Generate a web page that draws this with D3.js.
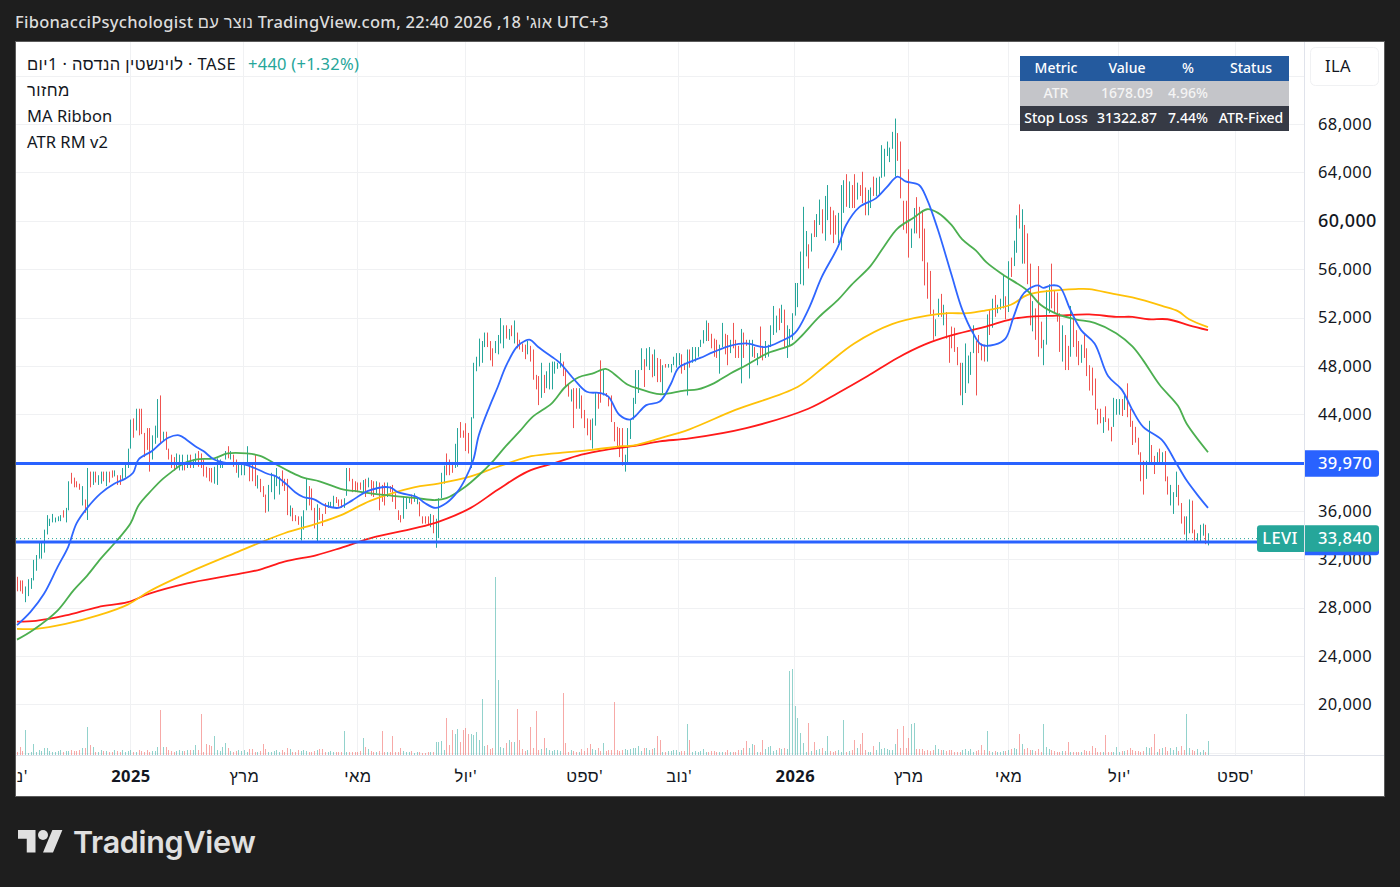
<!DOCTYPE html>
<html>
<head>
<meta charset="utf-8">
<script src="https://cdn.jsdelivr.net/npm/d3@7"></script>
<style>
body { margin: 0; background: #1e1e1e; }
text { font-family: "Noto Sans", sans-serif; letter-spacing: .4px; }
</style>
</head>
<body>
<script>
const w = 1400;
const h = 887;

// daily bars, prices in thousands of agorot
const barHigh = [
30.6,30.3,30.3,29.8,30.4,30.5,32.0,32.4,33.4,33.4,
34.5,35.7,35.4,35.8,35.5,35.6,35.7,36.1,36.3,38.5,
39.2,38.8,38.5,38.3,38.1,37.0,39.6,39.3,39.3,39.3,
39.0,39.3,39.3,39.3,39.3,39.4,39.4,39.0,39.0,39.6,
40.0,41.2,43.6,43.7,44.5,44.5,44.5,42.5,42.9,42.9,
42.3,43.1,45.3,45.6,42.6,42.6,41.2,40.7,40.5,40.8,
40.7,40.7,40.1,40.7,40.7,40.3,40.8,41.0,40.8,40.3,
39.7,39.6,39.6,39.7,40.4,40.3,40.1,41.0,41.4,41.0,
40.7,40.3,39.9,40.0,40.0,41.4,40.0,39.9,40.7,39.0,
38.7,38.1,37.4,38.2,39.2,39.0,39.6,38.9,39.4,38.7,
38.7,36.5,36.3,35.7,35.6,35.6,36.1,38.7,38.1,37.9,
36.3,36.6,36.3,35.8,36.7,36.8,36.8,37.3,37.2,
37.0,37.0,37.1,39.6,39.6,38.7,38.5,38.4,38.4,38.6,
38.7,38.8,38.6,38.5,38.5,38.4,38.2,38.4,38.4,38.1,
38.2,37.5,36.1,35.7,37.2,37.2,37.2,37.4,37.5,37.2,
36.8,35.6,35.6,35.6,35.8,35.7,35.4,37.1,39.2,39.8,
40.8,40.3,40.1,41.6,42.9,43.4,42.7,43.3,42.5,43.8,
48.3,48.8,50.3,50.1,50.8,50.8,50.1,49.5,50.1,50.6,
52.0,51.4,51.4,51.1,51.4,51.8,50.8,50.2,49.9,49.8,
50.1,49.7,49.4,47.3,47.2,48.3,47.3,47.6,48.3,48.4,
48.4,48.3,49.1,48.4,47.7,46.5,46.1,46.2,46.2,46.2,
45.6,44.4,43.7,43.6,43.7,45.8,45.8,48.5,47.7,45.8,
45.5,45.6,43.4,43.0,42.9,42.9,40.7,42.9,43.6,45.4,
47.7,47.7,49.5,48.6,49.5,49.6,49.0,49.4,48.7,48.6,
48.1,48.2,48.2,48.2,48.8,49.1,49.1,49.0,48.3,49.4,
49.4,49.6,49.6,49.6,50.2,51.0,51.8,51.6,50.7,50.3,
50.2,49.8,51.6,50.7,50.6,50.2,51.6,50.2,49.7,51.1,
50.8,50.2,50.2,50.2,49.6,49.1,51.3,49.7,50.1,49.8,
51.4,53.0,52.2,52.8,53.1,52.7,51.4,51.1,52.4,54.9,
54.9,57.5,61.2,59.2,58.1,59.0,60.1,60.6,61.8,61.0,
62.1,63.0,61.2,60.9,60.5,60.7,63.0,63.4,63.9,63.3,
63.0,63.9,63.2,63.0,64.1,62.8,62.6,62.8,63.7,63.6,
63.7,66.3,66.0,66.6,66.1,67.4,68.5,67.3,66.6,61.7,
61.7,64.3,59.4,61.1,62.0,61.2,60.9,59.4,56.6,55.9,
52.7,51.9,53.6,54.0,53.1,52.5,50.5,51.3,51.2,49.6,
48.3,48.3,49.9,48.9,49.2,51.4,50.1,50.6,49.9,49.8,
52.3,52.7,53.6,53.9,53.1,53.6,55.5,53.8,56.7,57.0,
58.4,60.5,61.4,61.0,59.7,59.0,56.5,53.4,52.8,56.3,
51.7,50.2,54.3,54.8,56.5,54.3,54.1,52.4,51.4,50.6,
49.7,53.0,52.0,51.0,50.1,49.8,50.6,49.5,48.1,47.9,
47.0,44.5,44.5,43.8,44.7,43.7,43.0,45.4,45.3,45.3,
45.3,45.6,46.6,44.5,43.5,43.0,42.1,40.9,40.2,40.2,
43.5,41.5,40.6,40.9,41.2,40.9,41.0,38.9,38.2,37.6,
39.3,38.2,36.7,35.6,35.6,37.0,36.9,34.5,34.2,34.9,
35.0,34.9,34.2];

const barLow = [
29.4,29.4,29.2,28.5,29.0,29.6,30.3,31.1,32.1,32.1,
32.6,34.1,34.8,35.1,35.1,35.2,35.2,35.5,35.1,36.1,
38.3,38.0,38.0,37.8,36.5,35.9,35.3,38.0,38.2,38.4,
38.2,38.3,38.5,38.1,38.4,38.8,38.9,38.2,38.2,38.7,
38.8,39.6,41.2,42.1,42.7,42.3,42.4,40.5,41.1,39.3,
40.3,41.6,42.1,41.6,41.8,41.1,40.3,39.6,39.4,39.6,
39.4,39.4,39.4,39.6,39.6,39.6,39.9,39.7,39.6,38.9,
38.8,38.5,38.4,38.3,38.2,39.6,39.6,40.3,40.4,40.3,
39.7,39.2,38.8,39.0,39.0,39.8,38.5,38.5,38.1,37.9,
37.6,37.2,35.9,36.0,37.6,37.0,38.1,37.4,38.1,37.7,
35.7,35.6,35.2,35.2,34.9,33.6,34.5,36.1,36.5,36.1,
34.6,33.5,35.3,34.8,35.8,36.3,36.3,36.3,36.7,
36.4,36.3,36.3,37.3,38.5,37.6,37.6,37.6,37.8,37.6,
37.2,38.0,37.3,37.2,37.5,36.1,36.8,36.5,37.2,37.6,
36.8,36.2,35.3,35.1,35.4,36.2,36.7,36.6,36.8,36.6,
35.6,35.0,35.0,34.9,34.7,34.2,33.0,33.8,37.1,38.3,
39.0,39.0,39.2,39.6,39.7,42.1,42.1,41.0,40.8,39.6,
43.7,47.6,48.0,48.3,49.6,49.6,48.5,48.0,49.1,49.0,
49.9,49.5,50.3,50.2,50.5,49.9,49.5,49.4,49.2,48.6,
49.0,48.4,46.9,46.1,44.8,45.4,45.8,46.2,46.1,46.1,
47.4,47.8,47.9,47.2,46.3,45.5,45.1,42.9,44.5,44.5,
43.7,42.9,42.3,41.9,41.2,43.1,44.5,45.0,45.6,45.5,
44.7,43.4,41.8,41.2,40.5,39.8,39.3,40.0,42.0,43.6,
44.9,45.8,47.7,46.3,48.0,47.7,47.1,47.2,46.7,46.7,
45.8,47.9,47.9,47.5,48.1,47.9,48.1,47.4,47.7,45.6,
47.9,48.3,48.4,48.8,49.6,49.9,50.1,50.1,49.5,48.8,
48.7,47.4,49.6,49.0,48.1,49.1,49.5,48.7,48.7,46.6,
48.7,49.7,47.0,48.8,48.7,48.1,48.7,48.5,48.7,48.8,
49.6,50.6,50.8,51.0,51.6,49.6,48.7,49.7,50.2,52.2,
52.9,54.8,54.7,57.1,56.1,57.5,58.7,58.7,59.7,59.0,
58.4,60.1,58.9,58.2,58.9,58.2,57.6,60.7,61.2,61.1,
61.1,61.1,61.8,62.1,61.5,60.5,60.5,61.1,62.1,62.1,
62.2,63.6,63.7,65.4,64.9,66.0,63.7,65.0,61.9,59.3,
59.0,57.0,57.8,59.0,59.0,58.6,56.7,54.7,53.6,52.3,
50.2,50.5,52.1,52.1,51.4,50.3,48.3,49.5,49.2,48.1,
45.6,44.8,45.8,46.6,47.3,49.1,45.6,49.1,48.5,48.4,
48.4,50.6,51.2,52.1,52.4,52.7,52.8,51.9,52.5,55.4,
56.3,57.4,59.4,56.5,56.5,54.8,51.4,50.9,50.2,48.8,
49.5,48.1,49.8,52.4,52.8,52.4,51.7,49.2,48.4,47.7,
47.7,48.8,49.6,48.8,48.1,48.3,48.7,47.2,46.0,45.6,
44.4,43.2,43.3,42.5,43.4,42.7,41.8,43.0,44.0,44.0,
43.9,44.4,43.8,43.0,41.5,41.7,40.7,38.5,37.4,38.7,
39.9,39.9,39.1,39.9,39.9,39.9,38.5,37.4,36.5,35.8,
37.2,36.5,35.0,34.1,33.5,34.2,34.2,33.4,33.4,33.4,
34.0,33.3,33.2];

// 1 = closed up, 0 = closed down
const barUp = [
0,0,0,1,1,1,1,1,1,1,
1,1,1,1,1,1,1,0,1,1,
0,0,0,0,1,0,1,0,1,0,
1,1,0,1,0,0,1,0,0,1,
1,1,1,0,1,0,0,0,0,0,
1,1,1,0,1,0,0,0,0,1,
1,1,0,1,0,1,1,0,0,0,
0,0,0,1,1,1,1,1,0,1,
0,0,1,1,1,1,0,0,0,1,
0,0,0,1,1,1,1,1,0,0,
0,1,0,0,0,1,1,1,0,0,
0,1,0,0,0,1,1,1,0,
0,0,1,1,0,0,0,0,0,1,
0,1,0,0,1,0,0,0,1,0,
0,0,0,0,1,1,1,0,1,1,
0,0,0,0,1,0,1,1,1,1,
0,0,0,1,1,0,0,0,0,1,
1,1,1,1,1,0,0,0,1,1,
1,1,0,1,0,1,0,0,0,0,
1,0,0,0,0,1,0,1,1,1,
1,1,1,0,0,0,1,0,0,1,
0,0,0,0,1,1,0,0,1,0,
0,0,0,0,0,0,1,1,1,1,
1,1,1,0,1,1,0,1,0,0,
1,0,1,1,1,1,1,0,0,1,
0,1,1,1,1,1,1,0,0,0,
0,1,1,0,0,1,0,0,0,1,
0,0,1,1,0,1,0,0,1,1,
1,1,1,0,1,0,1,1,1,1,
1,1,1,1,0,1,0,1,1,0,
1,1,0,0,0,1,1,1,0,1,
0,0,1,0,0,0,1,1,0,1,
1,1,1,1,1,1,1,0,0,0,
0,0,1,1,0,0,0,0,0,0,
0,1,1,0,1,0,0,0,0,0,
0,1,1,1,1,1,0,0,0,0,
1,0,1,0,1,1,1,0,1,0,
1,1,0,1,0,0,0,1,0,0,
0,1,1,1,0,0,0,0,1,0,
0,1,0,0,0,1,0,0,0,0,
0,0,0,1,0,0,0,1,1,1,
0,1,0,0,0,0,0,0,0,1,
1,0,0,1,0,1,0,0,1,1,
1,0,0,0,1,1,0,0,1,1,
1,0,1];

const volume = [
3,8,4,25,2,3,11,3,5,4,
7,7,4,3,3,4,5,3,4,4,
5,4,4,5,7,7,28,10,8,3,
3,5,4,4,3,3,5,4,3,5,
3,4,5,3,3,5,4,3,5,3,
4,4,8,45,8,8,5,4,3,4,
5,4,4,5,5,5,10,5,41,3,
11,10,9,19,5,4,8,12,7,4,
3,4,5,4,5,3,6,6,3,3,
4,11,6,3,3,4,5,3,5,3,
7,6,3,3,5,4,5,4,3,3,
4,5,6,6,3,3,4,3,3,3,
3,24,3,3,3,3,3,4,17,8,
6,4,3,3,4,24,3,3,3,19,
3,3,7,4,3,3,4,2,3,3,
2,2,3,3,3,13,13,14,5,37,
10,25,21,26,13,25,27,21,21,20,
23,15,56,9,10,6,7,178,75,8,
7,12,15,13,13,46,15,6,4,5,
28,7,44,5,6,17,7,5,4,5,
5,4,62,12,3,5,4,3,3,6,
4,7,11,6,5,7,4,12,4,5,
5,53,5,4,5,6,5,6,7,7,
9,4,7,7,5,6,7,19,15,3,
3,4,4,5,5,3,4,4,31,15,
3,4,3,4,6,3,3,4,4,3,
3,3,3,5,3,3,3,5,5,7,
14,7,11,10,3,3,15,6,8,9,
4,5,7,6,7,6,84,86,49,37,
22,12,3,32,4,13,5,6,7,4,
19,4,3,4,5,3,35,3,4,5,
15,7,11,22,5,3,3,9,5,13,
6,7,6,5,5,11,26,7,29,7,
17,31,32,6,6,6,4,5,4,5,
10,6,5,5,4,5,5,3,3,3,
5,6,4,6,3,4,5,10,5,24,
4,3,4,3,3,4,4,5,6,7,
6,21,11,6,7,5,5,4,6,3,
31,8,6,5,4,3,3,4,4,13,
3,3,3,3,3,5,4,4,9,7,
3,3,3,20,3,3,3,8,3,4,
4,5,7,5,4,4,3,4,8,7,
8,21,3,6,7,8,4,7,5,8,
4,9,5,41,7,5,4,6,3,5,
3,14];

// moving averages: bar index, value read at that bar
const blueIdx = [0,5,10,15,19,22,26,31,36,40,43,45,50,53,56,60,63,66,69,73,78,84,88,93,96,100,103,106,110,114,119,121,124,130,138,141,148,151,155,159,163,166,169,171,175,178,181,185,188,190,193,198,201,206,211,216,219,223,227,229,233,238,242,245,249,253,258,264,270,277,283,288,293,298,304,307,312,318,322,326,329,334,337,341,346,350,354,357,362,366,369,372,374,378,380,383,386,390,394,399,404,409,413,417,424,429,433,437,441];
const blueVal = [26.6,27.7,29.2,31.4,33.1,35.0,36.3,37.5,38.3,38.7,39.2,40.3,41.0,41.6,42.1,42.3,41.9,41.4,41.0,40.3,40.0,39.9,39.6,39.1,38.9,38.2,37.6,37.2,37.0,36.5,36.3,36.5,36.9,37.7,38.0,37.6,37.2,36.7,36.3,36.7,37.6,38.7,40.3,42.3,44.7,46.3,48.0,49.6,50.1,50.2,49.6,48.8,48.3,47.0,45.9,45.8,45.5,44.0,43.6,43.9,44.8,45.1,46.5,47.9,48.35,48.7,49.2,49.7,49.9,49.6,50.1,50.75,52.7,55.4,57.9,59.7,61.2,61.9,62.8,63.7,63.3,63.0,61.8,59.3,55.6,52.7,50.75,49.8,49.8,50.3,52.1,53.8,54.3,54.7,54.5,54.7,54.6,52.7,51.0,49.9,47.2,46.1,44.4,43.0,41.9,40.1,38.6,37.4,36.3];

const greenIdx = [0,6,15,21,26,31,37,42,45,50,54,58,61,66,73,78,85,90,96,101,106,112,117,121,125,131,139,148,155,159,166,171,176,181,186,191,198,203,208,213,218,221,226,231,238,247,252,258,264,270,278,287,290,297,304,309,316,321,326,332,337,341,346,350,355,359,365,374,379,385,392,399,407,413,417,423,430,433,441];
const greenVal = [25.4,26.2,27.8,29.5,30.7,32.1,33.6,35.0,36.5,37.8,38.7,39.4,39.9,40.3,40.4,40.8,40.8,40.6,39.9,39.3,38.8,38.5,38.1,37.8,37.7,37.5,37.3,37.1,36.95,37.1,38.05,39.0,40.1,41.4,42.6,43.85,44.95,46.3,47.1,47.4,47.8,47.4,46.5,46.1,45.7,46.0,46.1,46.6,47.4,48.1,49.1,49.8,50.4,52.1,53.5,54.75,56.3,57.9,59.4,60.3,61.0,60.7,59.7,58.5,57.6,56.6,55.6,54.3,53.1,52.35,51.9,51.6,50.75,49.65,48.5,46.5,44.7,43.3,40.9];

const yellowIdx = [0,7,18,30,41,49,63,80,99,111,120,131,147,156,168,178,189,199,213,224,228,238,249,266,289,299,310,324,337,345,352,358,368,374,383,392,397,406,413,424,430,434,441];
const yellowVal = [26.3,26.3,26.7,27.4,28.3,29.4,30.9,32.5,34.2,35.0,35.7,36.9,38.0,38.3,38.9,39.7,40.5,40.8,41.1,41.4,41.45,42.05,42.8,44.4,46.3,48.0,49.9,51.5,52.2,52.4,52.4,52.6,53.1,53.9,54.26,54.4,54.4,54.0,53.7,53.0,52.55,51.9,51.25];

const redIdx = [0,7,18,30,41,49,63,80,90,99,111,120,131,147,156,168,178,189,199,209,218,228,238,249,270,293,304,315,326,336,345,358,368,374,385,397,407,413,419,426,434,441];
const redVal = [26.9,26.96,27.4,28.1,28.5,29.2,30.05,30.75,31.2,31.85,32.4,33.0,33.8,34.6,35.15,36.3,37.8,39.3,40.0,40.7,41.1,41.4,41.8,42.05,42.9,44.5,45.8,47.2,48.7,49.8,50.5,51.25,51.9,52.1,52.2,52.3,52.1,52.1,51.9,51.9,51.4,51.0];

const levels = [39.97, 33.48];
const lastPrice = 33.84;
const priceTicks = [20,24,28,32,36,40,44,48,52,56,60,64,68];
const gridPrices = [16,20,24,28,32,36,40,44,48,52,56,60,64,68,72];

const timeIdx = [-1,42,84,126,166,210,245,288,330,367,408,451];
const timeLabels = ["נוב'","2025","מרץ","מאי","יול'","ספט'","נוב'","2026","מרץ","מאי","יול'","ספט'"];

const tableHead = ["Metric","Value","%","Status"];
const tableAtr = ["ATR","1678.09","4.96%",""];
const tableStop = ["Stop Loss","31322.87","7.44%","ATR-Fixed"];

const teal = "#26a69a";
const redBar = "#ef5350";
const paneL = 16, paneR = 1304, paneT = 42, paneB = 755;

const x = d3.scaleLinear().domain([0, barHigh.length - 1]).range([17, 1208]);
const y = d3.scaleLinear().domain([36, 68]).range([511.5, 124.6]);
const vol = d3.scaleLinear().domain([0, d3.max(volume)]).range([paneB, 577]);

const svg = d3.select("body").append("svg").attr("width", w).attr("height", h).style("display", "block");

svg.append("rect").attr("x", 15.5).attr("y", 41.5).attr("width", 1369).attr("height", 755)
   .attr("fill", "#fff").attr("stroke", "#5a5a5a");

svg.append("clipPath").attr("id", "pane").append("rect")
   .attr("x", paneL).attr("y", paneT).attr("width", paneR - paneL).attr("height", paneB - paneT);
svg.append("clipPath").attr("id", "timeClip").append("rect")
   .attr("x", paneL).attr("y", paneB).attr("width", paneR - paneL).attr("height", 41);

const pane = svg.append("g").attr("clip-path", "url(#pane)");

// grid
pane.selectAll(".hgrid").data(gridPrices).enter().append("line")
    .attr("x1", paneL).attr("x2", paneR)
    .attr("y1", d => y(d)).attr("y2", d => y(d))
    .attr("stroke", "#f0f1f3").attr("shape-rendering", "crispEdges");
pane.selectAll(".vgrid").data(timeIdx).enter().append("line")
    .attr("x1", d => x(d)).attr("x2", d => x(d))
    .attr("y1", paneT).attr("y2", paneB)
    .attr("stroke", "#f0f1f3").attr("shape-rendering", "crispEdges");

// volume
pane.selectAll(".vol").data(volume).enter().append("rect")
    .attr("x", (d, i) => Math.round(x(i)))
    .attr("width", 1)
    .attr("y", d => vol(d))
    .attr("height", d => paneB - vol(d))
    .attr("fill", (d, i) => barUp[i] ? teal : redBar)
    .attr("opacity", 0.5);

// price bars
pane.selectAll(".bar").data(barHigh).enter().append("rect")
    .attr("x", (d, i) => Math.round(x(i)))
    .attr("width", 1)
    .attr("y", d => y(d))
    .attr("height", (d, i) => y(barLow[i]) - y(d))
    .attr("fill", (d, i) => barUp[i] ? teal : redBar);

// moving averages
const maLine = d3.line().x(d => x(d[0])).y(d => y(d[1])).curve(d3.curveCatmullRom.alpha(0.5));
const series = [
  [redIdx, redVal, "#ff1a1a"],
  [yellowIdx, yellowVal, "#ffc107"],
  [greenIdx, greenVal, "#4caf50"],
  [blueIdx, blueVal, "#2f66ff"]
];
series.forEach(s => {
  pane.append("path")
      .attr("d", maLine(d3.zip(s[0], s[1])))
      .attr("fill", "none").attr("stroke", s[2]).attr("stroke-width", 1.8);
});

// horizontal levels
pane.selectAll(".level").data(levels).enter().append("line")
    .attr("x1", paneL).attr("x2", paneR)
    .attr("y1", d => y(d)).attr("y2", d => y(d))
    .attr("stroke", "#2962ff").attr("stroke-width", 3);
pane.append("line")
    .attr("x1", paneL).attr("x2", 1257)
    .attr("y1", y(lastPrice) + 1).attr("y2", y(lastPrice) + 1)
    .attr("stroke", teal).attr("stroke-dasharray", "1 3");

// axis panel edges
svg.append("line").attr("x1", paneR + 0.5).attr("x2", paneR + 0.5).attr("y1", paneT).attr("y2", 796)
   .attr("stroke", "#e0e3eb");
svg.append("line").attr("x1", paneL).attr("x2", 1384).attr("y1", paneB + 0.5).attr("y2", paneB + 0.5)
   .attr("stroke", "#e0e3eb");

// price axis, the 60,000 label is drawn larger in the original
const yAxis = d3.axisRight(y).tickValues(priceTicks).tickSize(0)
                .tickFormat(d => d3.format(",")(d * 1000));
const yG = svg.append("g").attr("transform", "translate(" + paneR + ",0)").call(yAxis);
yG.select(".domain").remove();
yG.selectAll("text").attr("x", 14).attr("y", -0.7).attr("text-anchor", "start")
  .style("font-family", '"Noto Sans", sans-serif').attr("fill", "#131722")
  .style("font-size", d => d === 60 ? "18px" : "16.5px")
  .style("font-weight", d => d === 60 ? 500 : 400);

// time axis
const xAxis = d3.axisBottom(x).tickValues(timeIdx).tickSize(0)
                .tickFormat((d, i) => timeLabels[i]);
const xG = svg.append("g").attr("clip-path", "url(#timeClip)")
              .append("g").attr("transform", "translate(0," + paneB + ")").call(xAxis);
xG.select(".domain").remove();
xG.selectAll("text").attr("y", 15)
  .style("font-family", '"Noto Sans", sans-serif').style("font-size", "16.5px").attr("fill", "#131722")
  .style("font-weight", (d, i) => /^20/.test(timeLabels[i]) ? 700 : 400);

// price labels
function priceTag(x0, x1, yc, height, fill, label) {
  svg.append("path")
     .attr("d", "M" + x0 + "," + (yc - height / 2) + "H" + (x1 - 3) + "q3,0 3,3V" + (yc + height / 2 - 3) + "q0,3 -3,3H" + x0 + "Z")
     .attr("fill", fill);
  svg.append("text").attr("x", 1318).attr("y", yc + 5.5)
     .attr("fill", "#fff").attr("font-size", 16.5).attr("font-weight", 500).text(label);
}
priceTag(1305, 1379, y(levels[0]), 26.5, "#2962ff", d3.format(",")(levels[0] * 1000));
priceTag(1305, 1379, y(levels[1]), 26.5, "#2962ff", "");
priceTag(1305, 1379, y(lastPrice) + 1, 26.5, teal, d3.format(",")(lastPrice * 1000));
svg.append("path")
   .attr("d", "M1304," + (y(lastPrice) - 12.3) + "H1260q-3,0 -3,3V" + (y(lastPrice) + 11.3) + "q0,3 3,3H1304Z")
   .attr("fill", teal);
svg.append("text").attr("x", 1280).attr("y", y(lastPrice) + 6.5).attr("text-anchor", "middle")
   .attr("fill", "#fff").attr("font-size", 16.5).attr("font-weight", 500).text("LEVI");

// currency button
svg.append("rect").attr("x", 1310.5).attr("y", 47.5).attr("width", 68).attr("height", 38).attr("rx", 5)
   .attr("fill", "#fff").attr("stroke", "#f0f1f3");
svg.append("text").attr("x", 1325).attr("y", 72).attr("font-size", 16.5).attr("fill", "#131722").text("ILA");

// header
svg.append("text").attr("x", 15).attr("y", 28).attr("font-size", 16.5).attr("font-weight", 500).attr("fill", "#dcdcdc")
   .style("letter-spacing", "0.26px")
   .text("FibonacciPsychologist נוצר עם TradingView.com, אוג' 18, 2026 22:40 UTC+3");

// legend
const legendLines = ["לוינשטין הנדסה · 1יום · TASE", "מחזור", "MA Ribbon", "ATR RM v2"];
svg.selectAll(".legend").data(legendLines).enter().append("text")
   .attr("x", 27).attr("y", (d, i) => 69.5 + i * 26)
   .attr("font-size", 16.5).attr("fill", "#131722")
   .style("letter-spacing", (d, i) => i < 2 ? "0.4px" : "0.05px").text(d => d);
svg.append("text").attr("x", 248).attr("y", 69.5).attr("font-size", 16.5).attr("fill", teal)
   .style("letter-spacing", "0.25px").text("+440 (+1.32%)");

// ATR table
const colCenter = [1056, 1127, 1188, 1251];
const rows = [
  [tableHead, "#245a9e", "#fff", 56],
  [tableAtr, "#c4c5c9", "#f4f4f4", 81],
  [tableStop, "#363a45", "#fff", 106]
];
rows.forEach(r => {
  svg.append("rect").attr("x", 1020).attr("y", r[3]).attr("width", 269).attr("height", 25).attr("fill", r[1]);
  svg.selectAll(null).data(r[0]).enter().append("text")
     .attr("x", (d, i) => colCenter[i]).attr("y", r[3] + 17)
     .attr("text-anchor", "middle").attr("font-size", 14).attr("font-weight", 500)
     .style("letter-spacing", "0").attr("fill", r[2]).text(d => d);
});

// logo
const logo = svg.append("g").attr("transform", "translate(18,825) scale(1.25)").attr("fill", "#e0e0e0");
logo.append("path").attr("d", "M14 22H7V11H0V4h14v18zM28 22h-8l7.5-18h8L28 22z");
logo.append("circle").attr("cx", 20).attr("cy", 8).attr("r", 4);
svg.append("text").attr("x", 73).attr("y", 853).attr("font-size", 30.5).attr("font-weight", 600)
   .attr("fill", "#e0e0e0").style("font-family", "Inter, sans-serif").style("letter-spacing", "-0.3px").text("TradingView");
</script>
</body>
</html>
